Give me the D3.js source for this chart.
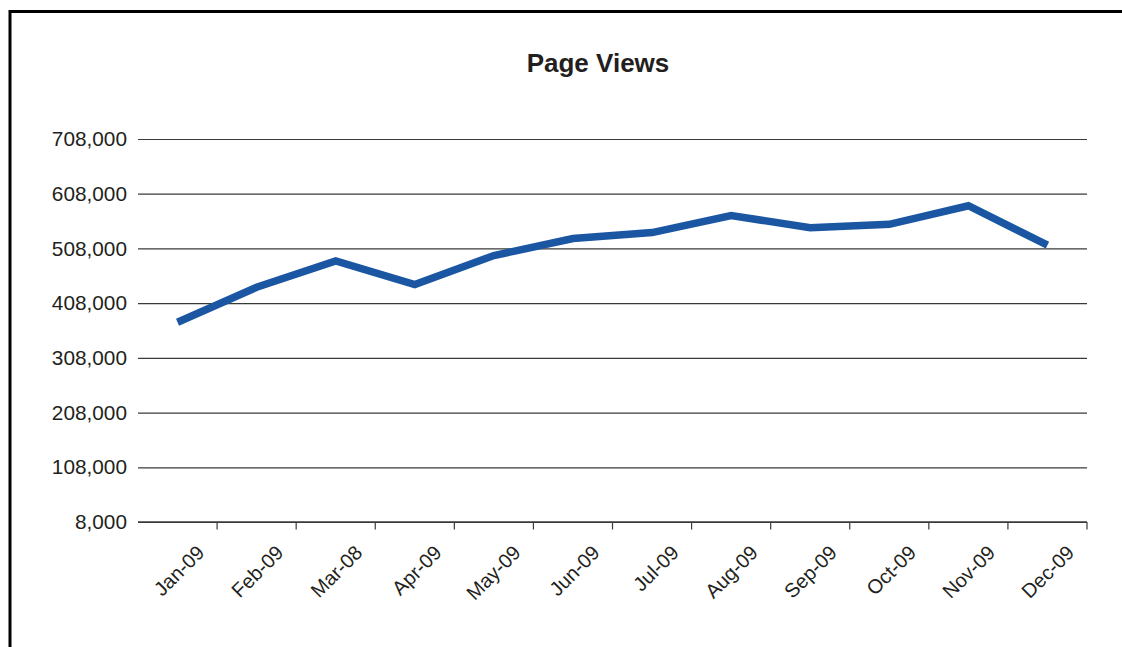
<!DOCTYPE html>
<html>
<head>
<meta charset="utf-8">
<script src="https://cdn.jsdelivr.net/npm/d3@7/dist/d3.min.js"></script>
<style>
  html, body { margin: 0; padding: 0; background: #fff; }
  svg { display: block; }
  text { font-family: "Liberation Sans", Arial, sans-serif; fill: #231f20; }
</style>
</head>
<body>
<svg id="chart" width="1122" height="647"></svg>
<script>
const categories = ["Jan-09","Feb-09","Mar-08","Apr-09","May-09","Jun-09","Jul-09","Aug-09","Sep-09","Oct-09","Nov-09","Dec-09"];
const pageViews = [373000, 437000, 485000, 442000, 495000, 526000, 537000, 568000, 546000, 552000, 586000, 514000];
const yTicks = [8000, 108000, 208000, 308000, 408000, 508000, 608000, 708000];
const title = "Page Views";

const svg = d3.select("#chart");
const W = 1122, H = 647;
const plot = { left: 138, right: 1087, top: 139, bottom: 522 };

svg.append("rect").attr("width", W).attr("height", H).attr("fill", "#fff");
// outer frame (right/bottom edges fall outside the picture)
svg.append("rect")
  .attr("x", 10).attr("y", 11.5).attr("width", 1200).attr("height", 800)
  .attr("fill", "none").attr("stroke", "#000").attr("stroke-width", 3);

svg.append("text")
  .attr("x", 598).attr("y", 71.5)
  .attr("text-anchor", "middle")
  .style("font-size", "26px").style("font-weight", "bold")
  .text(title);

const x = d3.scaleBand().domain(categories).range([plot.left, plot.right]).paddingInner(0).paddingOuter(0);
const y = d3.scaleLinear().domain([8000, 708000]).range([plot.bottom, plot.top]);

// gridlines + y labels
const yAxis = d3.axisLeft(y)
  .tickValues(yTicks)
  .tickSize(-(plot.right - plot.left))
  .tickPadding(11)
  .tickFormat(d3.format(","));
const gy = svg.append("g").attr("transform", `translate(${plot.left},0)`).call(yAxis);
gy.select(".domain").remove();
gy.selectAll(".tick line").attr("stroke", "#3a3a3a").attr("stroke-width", 1.2);
gy.selectAll(".tick text").style("font-size", "20.8px").attr("fill", "#231f20");

// x axis with ticks at band boundaries
const xAxisLine = svg.append("g");
xAxisLine.append("line")
  .attr("x1", plot.left).attr("x2", plot.right)
  .attr("y1", y(8000)).attr("y2", y(8000))
  .attr("stroke", "#3a3a3a").attr("stroke-width", 1.4);
categories.forEach((c) => {
  const bx = x(c) + x.bandwidth();
  xAxisLine.append("line")
    .attr("x1", bx).attr("x2", bx)
    .attr("y1", y(8000)).attr("y2", y(8000) + 7.5)
    .attr("stroke", "#3a3a3a").attr("stroke-width", 1.2);
});
xAxisLine.selectAll("text.xl").data(categories).enter().append("text")
  .attr("class", "xl")
  .attr("text-anchor", "end")
  .style("font-size", "20px")
  .attr("transform", d => `translate(${x(d) + x.bandwidth() / 2 + 28},${y(8000) + 32}) rotate(-45)`)
  .text(d => d);

// line
const line = d3.line()
  .x((d, i) => x(categories[i]) + x.bandwidth() / 2)
  .y(d => y(d));
svg.append("path")
  .datum(pageViews)
  .attr("d", line)
  .attr("fill", "none")
  .attr("stroke", "#1b56a2")
  .attr("stroke-width", 7.5)
  .attr("stroke-linejoin", "miter");
</script>
</body>
</html>
